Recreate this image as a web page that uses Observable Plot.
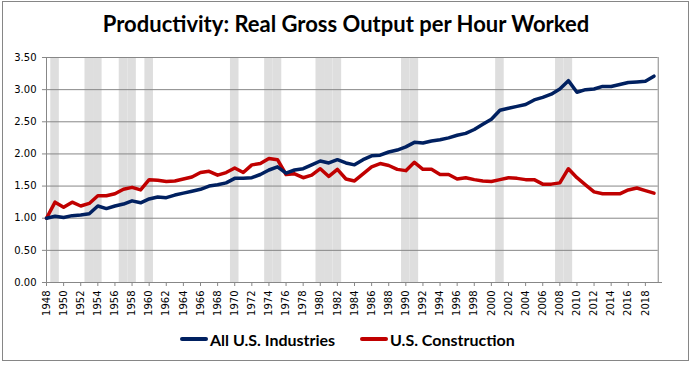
<!DOCTYPE html>
<html>
<head>
<meta charset="utf-8">
<script src="https://cdn.jsdelivr.net/npm/d3@7"></script>
<script src="https://cdn.jsdelivr.net/npm/@observablehq/plot@0.6"></script>
<style>
  body { margin: 0; background: #fff; }
  #wrap { position: relative; width: 692px; height: 365px; background: #fff; overflow: hidden; }
  #frame { position: absolute; left: 2px; top: 1px; width: 687px; height: 360px; box-sizing: border-box; border: 1px solid #868686; }
  #title { position: absolute; left: 0; top: 9px; width: 692px; text-align: center; font-family: Lato, sans-serif; font-weight: bold; font-size: 22px; line-height: 30px; color: #000; }
  #chart { position: absolute; left: 0; top: 45px; }
  .leg { position: absolute; top: 329px; height: 20px; display: flex; align-items: center; font-family: Lato, sans-serif; font-weight: bold; font-size: 16px; color: #000; white-space: nowrap; }
  .sw { width: 28px; height: 4px; border-radius: 2px; margin-right: 2px; }
</style>
</head>
<body>
<div id="wrap">
  <div id="frame"></div>
  <div id="title">Productivity: Real Gross Output per Hour Worked</div>
  <div id="chart"></div>
  <div class="leg" style="left:180px"><div class="sw" style="background:#002060"></div>All U.S. Industries</div>
  <div class="leg" style="left:360px"><div class="sw" style="background:#C00000"></div>U.S. Construction</div>
</div>
<script>
const firstYear = 1948;
const lastYear = 2019;
const allIndustries = [
  1.00, 1.03, 1.01, 1.04, 1.05, 1.07, 1.19, 1.15, 1.19, 1.22,
  1.27, 1.24, 1.30, 1.33, 1.32, 1.36, 1.39, 1.42, 1.45, 1.50,
  1.52, 1.55, 1.62, 1.62, 1.63, 1.68, 1.75, 1.80, 1.70, 1.75,
  1.77, 1.83, 1.89, 1.86, 1.91, 1.86, 1.83, 1.91, 1.97, 1.98,
  2.03, 2.06, 2.11, 2.18, 2.17, 2.20, 2.22, 2.25, 2.29, 2.32,
  2.38, 2.46, 2.54, 2.68, 2.71, 2.74, 2.77, 2.84, 2.88, 2.93,
  3.01, 3.14, 2.96, 3.00, 3.01, 3.05, 3.05, 3.08, 3.11, 3.12,
  3.13, 3.21
];
const construction = [
  1.00, 1.25, 1.17, 1.25, 1.19, 1.23, 1.35, 1.35, 1.38, 1.45,
  1.48, 1.44, 1.60, 1.59, 1.57, 1.58, 1.61, 1.64, 1.71, 1.73,
  1.67, 1.71, 1.78, 1.71, 1.83, 1.85, 1.93, 1.91, 1.68, 1.69,
  1.63, 1.67, 1.77, 1.65, 1.76, 1.61, 1.58, 1.69, 1.80, 1.85,
  1.82, 1.76, 1.74, 1.87, 1.76, 1.76, 1.68, 1.68, 1.61, 1.63,
  1.60, 1.58, 1.57, 1.60, 1.63, 1.62, 1.60, 1.60, 1.53, 1.53,
  1.55, 1.77, 1.63, 1.52, 1.41, 1.38, 1.38, 1.38, 1.44, 1.47,
  1.43, 1.39
];
const recessionYears = [1949, 1953, 1954, 1957, 1958, 1960, 1970, 1974, 1975, 1980, 1981, 1982, 1990, 1991, 2001, 2008, 2009];
const yTicks = [0, 0.5, 1, 1.5, 2, 2.5, 3, 3.5];
const xTickLabels = [1948,1950,1952,1954,1956,1958,1960,1962,1964,1966,1968,1970,1972,1974,1976,1978,1980,1982,1984,1986,1988,1990,1992,1994,1996,1998,2000,2002,2004,2006,2008,2010,2012,2014,2016,2018];

const years = d3.range(firstYear, lastYear + 1);
const rows = years.map((year, i) => ({year, all: allIndustries[i], con: construction[i]}));
const gridColor = "#878787";

const chart = Plot.plot({
  width: 692,
  height: 275,
  marginLeft: 46,
  marginRight: 30,
  marginTop: 12,
  marginBottom: 38,
  x: {domain: [1948, 2020], axis: null},
  y: {domain: [0, 3.5], axis: null},
  style: {fontFamily: "DejaVu Sans", fontSize: "10px", color: "#000", background: "transparent", overflow: "visible"},
  marks: [
    Plot.rect(recessionYears, {x1: d => d - 0.5, x2: d => d + 0.5, y1: 0, y2: 3.5, fill: "#dedede"}),
    Plot.ruleY(yTicks, {x1: 1947.53, x2: 2019.5, stroke: gridColor, strokeWidth: 1}),
    Plot.ruleX([1948], {y1: 0, y2: 3.5, stroke: gridColor}),
    Plot.ruleX([2019.5], {y1: 0, y2: 3.5, stroke: gridColor}),
    Plot.ruleY([0], {x1: 1948, x2: 2020, stroke: gridColor}),
    Plot.axisX({ticks: xTickLabels, tickFormat: d => String(d), tickSize: 4, tickPadding: 4, tickRotate: -90, label: null, stroke: gridColor, fill: "#000", fontSize: 10}),
    Plot.text(yTicks, {x: 1948, y: d => d, text: d => d.toFixed(2), textAnchor: "end", dx: -10, fill: "#000", fontSize: 10}),
    Plot.line(rows, {x: "year", y: "con", stroke: "#C00000", strokeWidth: 3.5}),
    Plot.line(rows, {x: "year", y: "all", stroke: "#002060", strokeWidth: 3.5})
  ]
});
document.getElementById("chart").append(chart);
</script>
</body>
</html>
